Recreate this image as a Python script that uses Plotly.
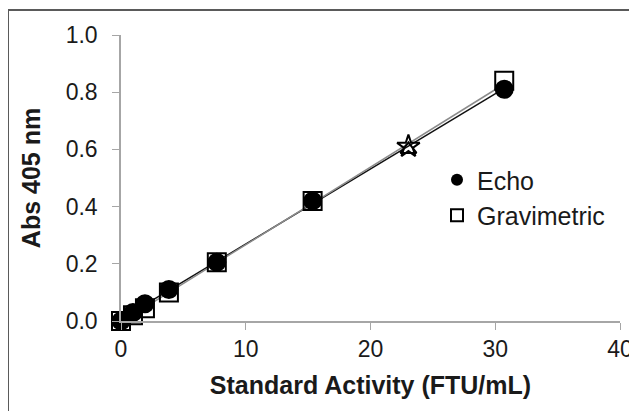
import numpy as np
import plotly.graph_objects as go

activity = [0, 0.96, 1.92, 3.84, 7.68, 15.36, 23.04, 30.72]
echo_abs = [0.0, 0.03, 0.06, 0.11, 0.205, 0.42, 0.61, 0.81]
grav_abs = [0.0, 0.02, 0.045, 0.10, 0.205, 0.42, 0.60, 0.84]
x_ticks = [0, 10, 20, 30, 40]
y_ticks = [0.0, 0.2, 0.4, 0.6, 0.8, 1.0]

# Page is rendered with the default 8px body margin: work in page coords.
OFF = 8
W, H = 637, 411 - OFF
PX0, PX1 = 121, 620      # page x of x=0 and x=40
PY0, PY1 = 321, 35       # page y of y=0 and y=1
ml = PX0 - OFF
mr = W - (PX1 - OFF)
mt = PY1 - OFF
mb = H - (PY0 - OFF)
pw, ph = W - ml - mr, H - mt - mb

def px(xp):
    return (xp - OFF - ml) / pw

def py(yp):
    return (H - mb - (yp - OFF)) / ph

FONT = "Liberation Sans, Arial, sans-serif"
TXT = "#1a1a1a"

fig = go.Figure()

# Linear trendlines fitted to each series
xs = np.array([activity[0], activity[-1]])
for ys, col in [(echo_abs, "#111111"), (grav_abs, "#8c8c8c")]:
    m, b = np.polyfit(activity, ys, 1)
    fig.add_trace(go.Scatter(x=xs, y=m * xs + b, mode="lines",
                             line=dict(color=col, width=1.5),
                             showlegend=False, hoverinfo="skip"))

echo_sym = ["circle"] * len(activity)
echo_sym[6] = "star-open"
echo_size = [17] * len(activity)
fig.add_trace(go.Scatter(x=activity, y=echo_abs, mode="markers", name="Echo",
                         marker=dict(symbol=echo_sym, size=echo_size, opacity=1,
                                     color="#000000",
                                     line=dict(color="#000000", width=2)),
                         showlegend=False))

grav_sym = ["square-open"] * len(activity)
grav_sym[6] = "triangle-up-open"
grav_size = [18] * len(activity)
grav_size[6] = 14
fig.add_trace(go.Scatter(x=activity, y=grav_abs, mode="markers", name="Gravimetric",
                         marker=dict(symbol=grav_sym, size=grav_size, opacity=1,
                                     color="#000000",
                                     line=dict(color="#000000", width=2)),
                         showlegend=False))

# Legend entries
fig.add_trace(go.Scatter(x=[None], y=[None], mode="markers", name="Echo",
                         marker=dict(symbol="circle", size=17, color="#000000")))
fig.add_trace(go.Scatter(x=[None], y=[None], mode="markers", name="Gravimetric",
                         marker=dict(symbol="square-open", size=15, color="#000000",
                                     line=dict(width=1.5))))

axis_common = dict(showgrid=False, zeroline=False, showline=True, automargin=False,
                   linecolor="#a6a6a6", linewidth=1.5,
                   ticks="outside", ticklen=7, tickcolor="#a6a6a6", tickwidth=1.2,
                   tickfont=dict(family=FONT, size=23, color=TXT))

fig.update_layout(
    width=W, height=H,
    margin=dict(l=ml, r=mr, t=mt, b=mb, autoexpand=False),
    paper_bgcolor="white", plot_bgcolor="white",
    xaxis=dict(range=[0, 40], tickvals=x_ticks, ticktext=[str(v) for v in x_ticks],
               ticklabelstandoff=0,
               title=dict(text="<b>Standard Activity (FTU/mL)</b>", standoff=15,
                          font=dict(family=FONT, size=25, color=TXT)),
               **axis_common),
    yaxis=dict(range=[0, 1.0], tickvals=y_ticks, ticktext=[f"{v:.1f}" for v in y_ticks],
               ticklabelstandoff=10,
               title=dict(text="<b>Abs 405 nm</b>", standoff=18,
                          font=dict(family=FONT, size=25, color=TXT)),
               **axis_common),
    legend=dict(x=px(429 + OFF), y=py(149 + OFF), xanchor="left", yanchor="top",
                bgcolor="rgba(0,0,0,0)", tracegroupgap=0, itemsizing="constant",
                itemwidth=30,
                font=dict(family=FONT, size=25, color=TXT)),
    showlegend=True,
)
fig.update_traces(cliponaxis=False)

# Outer frame (left and top edges visible)
fig.add_shape(type="line", xref="paper", yref="paper",
              x0=px(8), x1=px(8), y0=py(H + 40), y1=py(10),
              line=dict(color="#5a5a5a", width=2))
fig.add_shape(type="line", xref="paper", yref="paper",
              x0=px(8), x1=px(W + 40), y0=py(10), y1=py(10),
              line=dict(color="#5a5a5a", width=2))

fig.write_html("out.html")
